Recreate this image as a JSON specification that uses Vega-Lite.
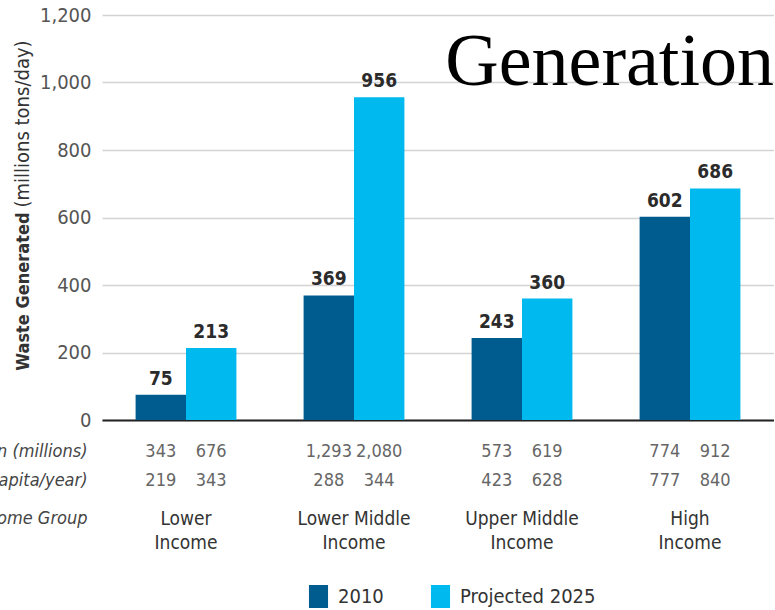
{
  "$schema": "https://vega.github.io/schema/vega-lite/v6.json",
  "background": "white",
  "padding": {"left": -189, "top": 5, "right": 0, "bottom": 0},
  "config": {
    "view": {"stroke": null},
    "font": "DejaVu Sans Condensed"
  },
  "datasets": {
    "waste": [
      {"group": "Lower Income", "series": "2010", "waste": 75, "pop": 343, "kg": 219},
      {"group": "Lower Income", "series": "Projected 2025", "waste": 213, "pop": 676, "kg": 343},
      {"group": "Lower Middle Income", "series": "2010", "waste": 369, "pop": 1293, "kg": 288},
      {"group": "Lower Middle Income", "series": "Projected 2025", "waste": 956, "pop": 2080, "kg": 344},
      {"group": "Upper Middle Income", "series": "2010", "waste": 243, "pop": 573, "kg": 423},
      {"group": "Upper Middle Income", "series": "Projected 2025", "waste": 360, "pop": 619, "kg": 628},
      {"group": "High Income", "series": "2010", "waste": 602, "pop": 774, "kg": 777},
      {"group": "High Income", "series": "Projected 2025", "waste": 686, "pop": 912, "kg": 840}
    ],
    "groups": [
      {"group": "Lower Income", "label": "Lower\nIncome", "row": "income"},
      {"group": "Lower Middle Income", "label": "Lower Middle\nIncome", "row": "income"},
      {"group": "Upper Middle Income", "label": "Upper Middle\nIncome", "row": "income"},
      {"group": "High Income", "label": "High\nIncome", "row": "income"}
    ],
    "heading": [
      {"label": "Generation", "level": 993}
    ]
  },
  "spacing": 17,
  "bounds": "flush",
  "vconcat": [
    {
      "width": 672,
      "height": 405,
      "layer": [
        {
          "data": {"name": "waste"},
          "mark": {"type": "bar"},
          "encoding": {
            "x": {
              "field": "group",
              "type": "nominal",
              "sort": ["Lower Income", "Lower Middle Income", "Upper Middle Income", "High Income"],
              "scale": {"paddingInner": 0.4, "paddingOuter": 0.2},
              "axis": {"labels": false, "ticks": false, "title": null, "domainColor": "#222222", "domainWidth": 2}
            },
            "xOffset": {
              "field": "series",
              "type": "nominal",
              "sort": ["2010", "Projected 2025"],
              "scale": {"paddingInner": 0, "paddingOuter": 0}
            },
            "y": {
              "field": "waste",
              "type": "quantitative",
              "scale": {"domain": [0, 1200]},
              "axis": {
                "orient": "left",
                "values": [0, 200, 400, 600, 800, 1000, 1200],
                "format": ",d",
                "labelFontSize": 20,
                "labelColor": "#555555",
                "labelPadding": 11,
                "ticks": false,
                "domain": false,
                "gridColor": "#d3d3d3",
                "gridWidth": 1.5,
                "title": "Waste Generated",
                "titleFontWeight": "bold",
                "titleFontSize": 18,
                "titleColor": "#333333",
                "titleAngle": -90,
                "titleAlign": "right",
                "titleBaseline": "alphabetic",
                "titleX": -74,
                "titleY": 197
              }
            },
            "color": {
              "field": "series",
              "type": "nominal",
              "scale": {"domain": ["2010", "Projected 2025"], "range": ["#005b8f", "#00b9ef"]},
              "legend": {
                "orient": "none",
                "legendX": 205,
                "legendY": 570,
                "direction": "horizontal",
                "title": null,
                "symbolType": "M-0.83,-1H0.83V1H-0.83Z",
                "symbolSize": 529,
                "symbolStrokeWidth": 0,
                "labelFontSize": 20,
                "labelColor": "#333333",
                "labelOffset": 8,
                "columnPadding": 45
              }
            }
          }
        },
        {
          "data": {"name": "waste"},
          "mark": {"type": "text", "baseline": "bottom", "dy": -6, "fontWeight": "bold", "fontSize": 19, "color": "#2b2b2b"},
          "encoding": {
            "x": {
              "field": "group",
              "type": "nominal",
              "sort": ["Lower Income", "Lower Middle Income", "Upper Middle Income", "High Income"]
            },
            "xOffset": {
              "field": "series",
              "type": "nominal",
              "sort": ["2010", "Projected 2025"]
            },
            "y": {
              "field": "waste",
              "type": "quantitative",
              "axis": {
                "orient": "left",
                "labels": false,
                "ticks": false,
                "domain": false,
                "grid": false,
                "title": "(millions tons/day)",
                "titleFontWeight": "normal",
                "titleFontSize": 20,
                "titleColor": "#333333",
                "titleAngle": -90,
                "titleAlign": "left",
                "titleBaseline": "alphabetic",
                "titleX": -74,
                "titleY": 192
              }
            },
            "text": {"field": "waste", "type": "quantitative"}
          }
        },
        {
          "data": {"name": "heading"},
          "mark": {"type": "text", "align": "right", "baseline": "alphabetic", "font": "Liberation Serif", "fontSize": 74, "color": "#000000"},
          "encoding": {
            "x": {"value": "width"},
            "y": {"field": "level", "type": "quantitative", "axis": null},
            "text": {"field": "label", "type": "nominal"}
          }
        }
      ],
      "resolve": {"axis": {"y": "independent"}}
    },
    {
      "width": 672,
      "height": 87,
      "encoding": {
        "x": {
          "field": "group",
          "type": "nominal",
          "sort": ["Lower Income", "Lower Middle Income", "Upper Middle Income", "High Income"],
          "scale": {"type": "band", "paddingInner": 0.4, "paddingOuter": 0.2},
          "axis": null
        },
        "y": {
          "field": "row",
          "type": "nominal",
          "scale": {"type": "point", "domain": ["pop", "kg", "income"], "padding": 0.5},
          "axis": {
            "title": null,
            "domain": false,
            "ticks": false,
            "labelPadding": 15,
            "labelFontSize": 18,
            "labelFontStyle": "italic",
            "labelColor": "#444444",
            "labelLimit": 500,
            "labelExpr": "datum.value == 'pop' ? 'Urban Population (millions)' : datum.value == 'kg' ? 'Waste Generated (kg/capita/year)' : 'Income Group'",
            "labelBaseline": {"condition": {"test": "datum.value == 'income'", "value": "top"}, "value": "middle"}
          }
        }
      },
      "layer": [
        {
          "data": {"name": "waste"},
          "transform": [{"fold": ["pop", "kg"], "as": ["row", "num"]}],
          "mark": {"type": "text", "fontSize": 18, "color": "#666666"},
          "encoding": {
            "xOffset": {
              "field": "series",
              "type": "nominal",
              "sort": ["2010", "Projected 2025"],
              "scale": {"paddingInner": 0, "paddingOuter": 0}
            },
            "text": {"field": "num", "type": "quantitative", "format": ",d"}
          }
        },
        {
          "data": {"name": "groups"},
          "mark": {"type": "text", "baseline": "top", "lineBreak": "\n", "lineHeight": 24, "fontSize": 19, "color": "#333333"},
          "encoding": {
            "text": {"field": "label", "type": "nominal"}
          }
        }
      ]
    }
  ]
}
